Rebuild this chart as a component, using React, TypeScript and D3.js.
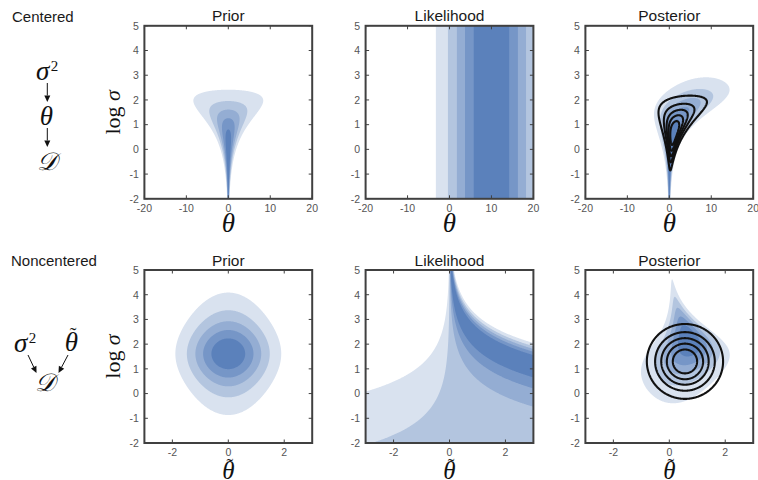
import React, { useMemo } from "react";
import * as d3 from "d3";

const WIDTH = 758;
const HEIGHT = 480;

// ---- model ----
const PRIOR_SIGMA_SCALE = 5; // sigma ~ HalfCauchy(5)  -> log sigma ~ sech(l - ln 5)
const OBSERVED_Y = 10;
const OBS_NOISE = 7;
const Q_THETA_MEAN = 0.56; // black contours: Gaussian in the noncentered space
const Q_THETA_SD = 0.72;
const Q_LOGSIG_MEAN = 1.3;
const Q_LOGSIG_SD = 0.8;
const LEVEL_FRACTIONS = [1 / 6, 2 / 6, 3 / 6, 4 / 6, 5 / 6];
const FILL_COLORS = ["#d9e2ef", "#b3c5df", "#94add3", "#7696c7", "#5b81bb"];

const ROW_LABELS = ["Centered", "Noncentered"];
const PANEL_TITLES = ["Prior", "Likelihood", "Posterior"];
const CENTERED_X_TICKS = [-20, -10, 0, 10, 20];
const NONCENTERED_X_TICKS = [-2, 0, 2];
const LOGSIGMA_TICKS = [-2, -1, 0, 1, 2, 3, 4, 5];
const CENTERED_X_DOMAIN: [number, number] = [-20, 20];
const NONCENTERED_X_DOMAIN: [number, number] = [-3, 3];
const LOGSIGMA_DOMAIN: [number, number] = [-2, 5];

// ---- layout ----
const PANEL_LEFTS = [144.4, 365.6, 585.4];
const PANEL_W = 167.8;
const ROW_TOPS = [25.8, 270];
const PANEL_H = 173;
const FRAME = "#404040";
const TICK_TEXT = "#555555";
const SANS = "'Liberation Sans', Arial, Helvetica, sans-serif";
const SERIF = "'Liberation Serif', 'DejaVu Serif', serif";

const logPriorLogSig = (l: number) => -Math.log(Math.cosh(l - Math.log(PRIOR_SIGMA_SCALE)));
const logQ = (u: number, l: number) =>
  -0.5 * ((u - Q_THETA_MEAN) / Q_THETA_SD) ** 2 - 0.5 * ((l - Q_LOGSIG_MEAN) / Q_LOGSIG_SD) ** 2;

const centered = {
  prior: (t: number, l: number) => logPriorLogSig(l) - l - 0.5 * (t / Math.exp(l)) ** 2,
  lik: (t: number, l: number) => -0.5 * ((OBSERVED_Y - t) / OBS_NOISE) ** 2,
  q: (t: number, l: number) => -l + logQ(t / Math.exp(l), l),
};
const noncentered = {
  prior: (u: number, l: number) => logPriorLogSig(l) - 0.5 * u * u,
  lik: (u: number, l: number) => -0.5 * ((OBSERVED_Y - Math.exp(l) * u) / OBS_NOISE) ** 2,
  q: (u: number, l: number) => logQ(u, l),
};

function contourPaths(
  xDomain: [number, number],
  nx: number,
  ny: number,
  logf: (x: number, y: number) => number,
  xs: d3.ScaleLinear<number, number>,
  ys: d3.ScaleLinear<number, number>
): string[] {
  const dx = (xDomain[1] - xDomain[0]) / (nx - 1);
  const dy = (LOGSIGMA_DOMAIN[1] - LOGSIGMA_DOMAIN[0]) / (ny - 1);
  const vals = new Array(nx * ny);
  let mx = -Infinity;
  for (let j = 0; j < ny; j++) {
    const y = LOGSIGMA_DOMAIN[0] + j * dy;
    for (let i = 0; i < nx; i++) {
      const x = xDomain[0] + i * dx;
      const v = logf(x, y);
      vals[i + j * nx] = v;
      if (v > mx) mx = v;
    }
  }
  for (let k = 0; k < vals.length; k++) vals[k] = Math.exp(vals[k] - mx);
  const cs = d3.contours().size([nx, ny]).thresholds(LEVEL_FRACTIONS)(vals);
  const proj = d3.geoTransform({
    point(x: number, y: number) {
      (this as any).stream.point(
        xs(xDomain[0] + (x - 0.5) * dx),
        ys(LOGSIGMA_DOMAIN[0] + (y - 0.5) * dy)
      );
    },
  });
  const path = d3.geoPath(proj as any);
  return cs.map((c) => path(c as any) || "");
}

type PanelSpec = {
  row: number;
  col: number;
  fills: string[];
  lines: string[] | null;
};

function Panel({ spec }: { spec: PanelSpec }) {
  const { row, col, fills, lines } = spec;
  const left = PANEL_LEFTS[col];
  const top = ROW_TOPS[row];
  const xDomain = row === 0 ? CENTERED_X_DOMAIN : NONCENTERED_X_DOMAIN;
  const xTicks = row === 0 ? CENTERED_X_TICKS : NONCENTERED_X_TICKS;
  const xs = d3.scaleLinear().domain(xDomain).range([left, left + PANEL_W]);
  const ys = d3.scaleLinear().domain(LOGSIGMA_DOMAIN).range([top + PANEL_H, top]);
  const clipId = `clip-${row}-${col}`;
  const bottom = top + PANEL_H;
  const cx = left + PANEL_W / 2;
  return (
    <g>
      <defs>
        <clipPath id={clipId}>
          <rect x={left} y={top} width={PANEL_W} height={PANEL_H} />
        </clipPath>
      </defs>
      <rect x={left} y={top} width={PANEL_W} height={PANEL_H} fill="#ffffff" />
      <g clipPath={`url(#${clipId})`}>
        {fills.map((d, k) => (
          <path key={k} d={d} fill={FILL_COLORS[k]} stroke="none" />
        ))}
        {lines &&
          lines.map((d, k) => (
            <path key={"l" + k} d={d} fill="none" stroke="#111111" strokeWidth={2.1} strokeLinejoin="round" />
          ))}
      </g>
      {/* ticks */}
      {xTicks.map((t) => (
        <g key={"xt" + t}>
          <line x1={xs(t)} x2={xs(t)} y1={bottom} y2={bottom - 3.5} stroke={FRAME} strokeWidth={1} />
          <line x1={xs(t)} x2={xs(t)} y1={top} y2={top + 3.5} stroke={FRAME} strokeWidth={1} />
          <text x={xs(t)} y={bottom + 13} textAnchor="middle" fontFamily={SANS} fontSize={10.5} fill={TICK_TEXT}>
            {String(t)}
          </text>
        </g>
      ))}
      {LOGSIGMA_TICKS.map((t) => (
        <g key={"yt" + t}>
          <line x1={left} x2={left + 3.5} y1={ys(t)} y2={ys(t)} stroke={FRAME} strokeWidth={1} />
          <line x1={left + PANEL_W} x2={left + PANEL_W - 3.5} y1={ys(t)} y2={ys(t)} stroke={FRAME} strokeWidth={1} />
          <text x={left - 5.5} y={ys(t) + 3.8} textAnchor="end" fontFamily={SANS} fontSize={10.5} fill={TICK_TEXT}>
            {String(t)}
          </text>
        </g>
      ))}
      <rect x={left} y={top} width={PANEL_W} height={PANEL_H} fill="none" stroke={FRAME} strokeWidth={2} />
      <text x={cx} y={top - 4.5} textAnchor="middle" fontFamily={SANS} fontSize={15.5} fill="#1a1a1a">
        {PANEL_TITLES[col]}
      </text>
      {/* x label */}
      {row === 0 ? (
        <text x={cx} y={bottom + 33} textAnchor="middle" fontFamily={SERIF} fontStyle="italic" fontSize={27} fill="#111">
          θ
        </text>
      ) : (
        <g>
          <text x={cx} y={479} textAnchor="middle" fontFamily={SERIF} fontStyle="italic" fontSize={25} fill="#111">
            θ
          </text>
          <text x={cx + 1.5} y={473} textAnchor="middle" fontFamily={SERIF} fontSize={20} fill="#111">
            ˜
          </text>
        </g>
      )}
      {col === 0 && (
        <text
          transform={`translate(${left - 24},${top + PANEL_H / 2}) rotate(-90)`}
          textAnchor="middle"
          fontFamily={SERIF}
          fontSize={22}
          fill="#111"
        >
          log <tspan fontStyle="italic">σ</tspan>
        </text>
      )}
    </g>
  );
}

function Arrow({ x1, y1, x2, y2 }: { x1: number; y1: number; x2: number; y2: number }) {
  const a = Math.atan2(y2 - y1, x2 - x1);
  const len = 6.5;
  const w = 3;
  const bx = x2 - len * Math.cos(a);
  const by = y2 - len * Math.sin(a);
  const px = -Math.sin(a) * w;
  const py = Math.cos(a) * w;
  return (
    <g>
      <line x1={x1} y1={y1} x2={bx} y2={by} stroke="#111" strokeWidth={1} />
      <polygon points={`${x2},${y2} ${bx + px},${by + py} ${bx - px},${by - py}`} fill="#111" />
    </g>
  );
}

export default function App() {
  const specs = useMemo(() => {
    const out: PanelSpec[] = [];
    [centered, noncentered].forEach((model, row) => {
      const xDomain = row === 0 ? CENTERED_X_DOMAIN : NONCENTERED_X_DOMAIN;
      const nx = row === 0 ? 401 : 301;
      const ny = 281;
      const fs = [model.prior, model.lik, (x: number, y: number) => model.prior(x, y) + model.lik(x, y)];
      fs.forEach((f, col) => {
        const left = PANEL_LEFTS[col];
        const top = ROW_TOPS[row];
        const xs = d3.scaleLinear().domain(xDomain).range([left, left + PANEL_W]);
        const ys = d3.scaleLinear().domain(LOGSIGMA_DOMAIN).range([top + PANEL_H, top]);
        const fills = contourPaths(xDomain, nx, ny, f, xs, ys);
        const lines = col === 2 ? contourPaths(xDomain, nx, ny, model.q, xs, ys) : null;
        out.push({ row, col, fills, lines });
      });
    });
    return out;
  }, []);

  return (
    <svg
      width={WIDTH}
      height={HEIGHT}
      viewBox={`0 0 ${WIDTH} ${HEIGHT}`}
      style={{ position: "absolute", left: 0, top: 0, background: "#fff" }}
    >
      <rect x={0} y={0} width={WIDTH} height={HEIGHT} fill="#fff" />
      <text x={12} y={21.5} fontFamily={SANS} fontSize={15} fill="#1a1a1a">
        {ROW_LABELS[0]}
      </text>
      <text x={11} y={266} fontFamily={SANS} fontSize={15} fill="#1a1a1a">
        {ROW_LABELS[1]}
      </text>

      {/* centered graphical model */}
      <text x={36} y={80} fontFamily={SERIF} fontStyle="italic" fontSize={27} fill="#111">
        σ<tspan fontStyle="normal" fontSize={15} dx={1.5} dy={-9}>2</tspan>
      </text>
      <Arrow x1={47.3} y1={83} x2={47.3} y2={102} />
      <text x={46.5} y={125} textAnchor="middle" fontFamily={SERIF} fontStyle="italic" fontSize={27} fill="#111">
        θ
      </text>
      <Arrow x1={47.3} y1={128} x2={47.3} y2={147} />
      <text x={46.5} y={170} textAnchor="middle" fontFamily={SERIF} fontStyle="italic" fontSize={25} fill="#111">
        𝒟
      </text>

      {/* noncentered graphical model */}
      <text x={14} y={352} fontFamily={SERIF} fontStyle="italic" fontSize={27} fill="#111">
        σ<tspan fontStyle="normal" fontSize={15} dx={1.5} dy={-9}>2</tspan>
      </text>
      <text x={71.5} y={351} textAnchor="middle" fontFamily={SERIF} fontStyle="italic" fontSize={27} fill="#111">
        θ
      </text>
      <text x={73} y={342} textAnchor="middle" fontFamily={SERIF} fontSize={20} fill="#111">
        ˜
      </text>
      <Arrow x1={28} y1={355} x2={36.5} y2={373} />
      <Arrow x1={68} y1={355} x2={58.5} y2={373} />
      <text x={45} y={391} textAnchor="middle" fontFamily={SERIF} fontStyle="italic" fontSize={25} fill="#111">
        𝒟
      </text>

      {specs.map((s) => (
        <Panel key={`${s.row}-${s.col}`} spec={s} />
      ))}
    </svg>
  );
}
